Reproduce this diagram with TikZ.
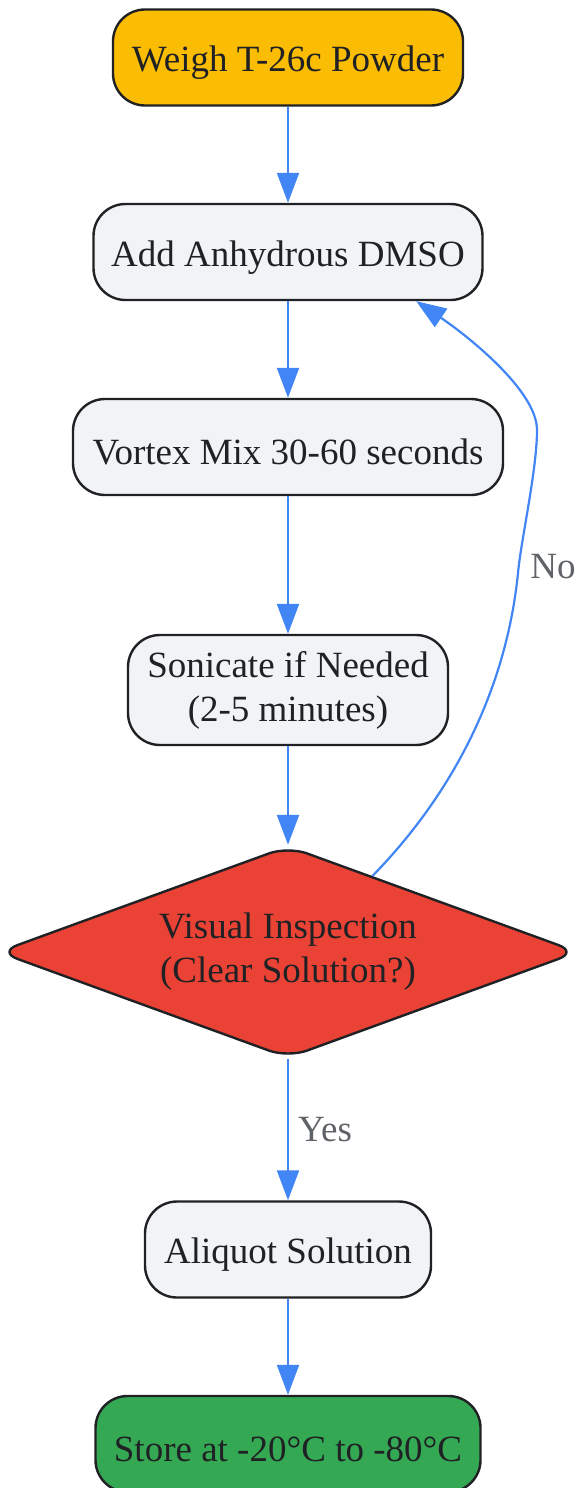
\documentclass[tikz,border=0pt]{standalone}
\usepackage{fontspec}
\setmainfont{Liberation Serif}
\usepackage{tikz}
\usetikzlibrary{arrows.meta}
\usetikzlibrary{shapes.geometric}
\usetikzlibrary{positioning}
\definecolor{ArrowBlue}{HTML}{4285F4}
\definecolor{BorderDark}{HTML}{202124}
\definecolor{TextDark}{HTML}{202124}
\definecolor{LabelGray}{HTML}{5F6368}
\definecolor{BoxGray}{HTML}{F1F3F4}
\definecolor{WeighYellow}{HTML}{FBBC04}
\definecolor{InspectRed}{HTML}{EA4335}
\definecolor{StoreGreen}{HTML}{34A853}
\newcommand{\FlowFont}{\fontsize{37}{44}\selectfont}
\newcommand{\TopStrut}{\rule{0pt}{36pt}}

\begin{document}
\begin{tikzpicture}[x=1pt, y=-1pt, >={Triangle[length=30pt,width=22pt]},
	StepBox/.style={draw=BorderDark, line width=2.4pt, rounded corners=32pt, fill=BoxGray, text=TextDark, align=center, inner sep=0pt, minimum height=96pt, font=\FlowFont, execute at begin node=\TopStrut},
	Decision/.style={diamond, aspect=2.736, draw=BorderDark, line width=2.4pt, rounded corners=20pt, fill=InspectRed, text=TextDark, align=center, inner sep=0pt, minimum width=580pt, minimum height=212pt, font=\FlowFont, execute at begin node=\TopStrut},
	Flow/.style={->, draw=ArrowBlue, line width=2.2pt},
	EdgeLabel/.style={text=LabelGray, inner sep=0pt, font=\FlowFont}]
	\def\ColX{288}
	%%%%%%%%%%%%%%%%%%%%%%%%%%%%%%%%%%%%%%%%%%%%%%%%%%%%%%%%%%
	\useasboundingbox (0,0) rectangle (577,1488);
	
	% preparation steps
	\node[StepBox, fill=WeighYellow, minimum width=350pt] (weigh) at (\ColX,57.5) {Weigh T-26c Powder};
	\node[StepBox, minimum width=389pt] (dmso) at (\ColX,252) {Add Anhydrous DMSO};
	\node[StepBox, minimum width=430pt] (vortex) at (\ColX,447) {Vortex Mix 30-60 seconds};
	\node[StepBox, minimum width=320pt, minimum height=110pt] (sonicate) at (\ColX,690) {Sonicate if Needed\\(2-5 minutes)};
	
	% check
	\node[Decision] (inspect) at (\ColX,952) {Visual Inspection\\(Clear Solution?)};
	
	% final steps
	\node[StepBox, minimum width=286pt] (aliquot) at (\ColX,1249.5) {Aliquot Solution};
	\node[StepBox, fill=StoreGreen, minimum width=385pt] (store) at (\ColX,1444) {Store at -20°C to -80°C};
	
	% main flow
	\draw[Flow] (weigh) -- (dmso);
	\draw[Flow] (dmso) -- (vortex);
	\draw[Flow] (vortex) -- (sonicate);
	\draw[Flow] (sonicate) -- (inspect);
	\draw[Flow] (inspect) -- node[EdgeLabel, right=9pt] (yes) {Yes} (aliquot);
	\draw[Flow] (aliquot) -- (store);
	
	% back to DMSO
	\draw[Flow] (inspect.42) .. controls (465,781) and (508,673) .. (518,573)
		.. controls (521,540) and (537,470) .. (537,430)
		.. controls (537,390) and (465,334) .. (dmso.-21);
	\node[EdgeLabel] (no) at (553,567) {No};
	
\end{tikzpicture}
\end{document}
